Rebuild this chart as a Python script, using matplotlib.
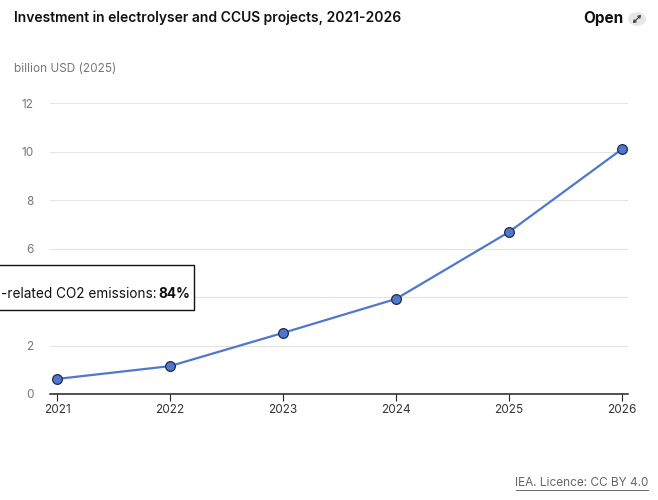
import matplotlib
matplotlib.use("Agg")
import matplotlib.pyplot as plt
from matplotlib.patches import Rectangle, Circle, FancyArrowPatch

plt.rcParams['font.family'] = ['Inter', 'DejaVu Sans']

years = [2021, 2022, 2023, 2024, 2025, 2026]
investment = [0.62, 1.15, 2.52, 3.92, 6.68, 10.1]
y_ticks = [0, 2, 4, 6, 8, 10, 12]

title = "Investment in electrolyser and CCUS projects, 2021-2026"
unit_label = "billion USD (2025)"
source = "IEA. Licence: CC BY 4.0"
tooltip_text = "-related CO2 emissions: "
tooltip_value = "84%"

fig = plt.figure(figsize=(6.58, 5.0), dpi=100)
W, H = 658, 500

ax = fig.add_axes([50 / W, 1 - 394 / H, 578 / W, 291 / H])

line_color = '#4f77cc'
ax.plot(years, investment, color=line_color, lw=1.6, zorder=3,
        marker='o', markersize=7, markerfacecolor=line_color,
        markeredgecolor='#1f2d4a', markeredgewidth=0.9, clip_on=False)

ax.set_xlim(2021 - 7 / 113, 2026 + 6 / 113)
ax.set_ylim(0, 12)
ax.set_xticks(years)
ax.set_yticks(y_ticks)
ax.grid(axis='y', color='#e4e4e4', lw=0.8)
ax.set_axisbelow(True)
for side in ['top', 'right', 'left']:
    ax.spines[side].set_visible(False)
ax.spines['bottom'].set_color('#222222')
ax.spines['bottom'].set_linewidth(1.1)
ax.tick_params(axis='y', length=0, pad=12, labelcolor='#777777', labelsize=8.5)
ax.tick_params(axis='x', length=5, color='#222222', labelcolor='#333333', labelsize=8.5, pad=2)

# the "4" label sits under the tooltip box in the reference
for lab, v in zip(ax.get_yticklabels(), y_ticks):
    if v == 4:
        lab.set_visible(False)

# titles
fig.text(14 / W, 1 - 18 / H, title, fontsize=10, fontweight='semibold',
         color='#111111', va='center', ha='left')
fig.text(623 / W, 1 - 19 / H, "Open", fontsize=11, fontweight='bold',
         color='#111111', va='center', ha='right')
fig.patches.append(Circle((637 / W, 1 - 19 / H), 9 / W, transform=fig.transFigure,
                          facecolor='#e6e6e6', edgecolor='none'))
# expand icon: small double-headed diagonal arrow
fig.patches.append(FancyArrowPatch((633 / W, 1 - 23 / H), (641 / W, 1 - 15 / H),
                                   transform=fig.transFigure,
                                   arrowstyle='<->,head_length=1.6,head_width=1.1',
                                   shrinkA=0, shrinkB=0, color='#333333', lw=0.8))
fig.text(14 / W, 1 - 69 / H, unit_label, fontsize=8.5, color='#777777',
         va='center', ha='left')

# clipped tooltip box
fig.patches.append(Rectangle((-20 / W, 1 - 310 / H), 214 / W, 45 / H,
                             transform=fig.transFigure, facecolor='white',
                             edgecolor='#111111', lw=1, zorder=5))
fig.text(1 / W, 1 - 294 / H, tooltip_text, fontsize=9.8,
         color='#111111', va='center', ha='left', zorder=6)
fig.text(158 / W, 1 - 294 / H, tooltip_value, fontsize=9.8, fontweight='bold',
         color='#111111', va='center', ha='left', zorder=6)

# source
fig.text(648 / W, 1 - 483 / H, source, fontsize=8.5, color='#666666',
         va='center', ha='right')
fig.add_artist(plt.Line2D([516 / W, 648 / W], [1 - 490 / H, 1 - 490 / H],
                          color='#666666', lw=0.7))

fig.savefig('out.png', dpi=100)
